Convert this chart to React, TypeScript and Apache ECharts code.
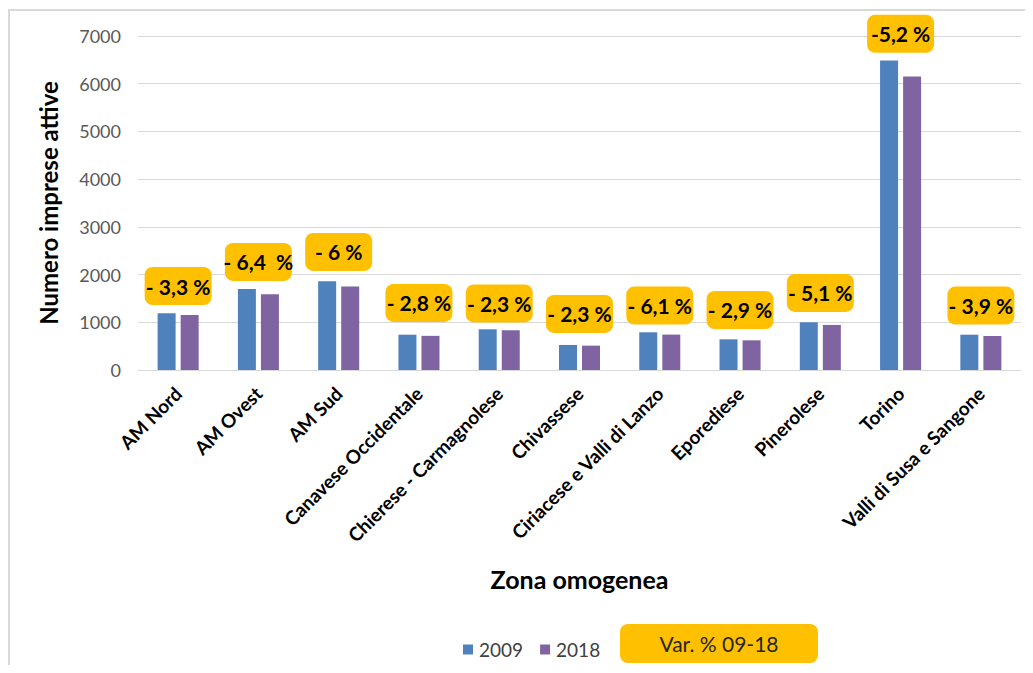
import React, { useEffect, useRef } from "react";
import * as echarts from "echarts";

const categories = [
  "AM Nord",
  "AM Ovest",
  "AM Sud",
  "Canavese Occidentale",
  "Chierese - Carmagnolese",
  "Chivassese",
  "Ciriacese e Valli di Lanzo",
  "Eporediese",
  "Pinerolese",
  "Torino",
  "Valli di Susa e Sangone",
];
const values2009 = [1190, 1700, 1860, 740, 853, 525, 790, 643, 1000, 6484, 740];
const values2018 = [1152, 1590, 1748, 716, 833, 510, 742, 622, 945, 6150, 712];
const varLabels = [
  "- 3,3 %",
  "- 6,4  %",
  "- 6 %",
  "- 2,8 %",
  "- 2,3 %",
  "- 2,3 %",
  "- 6,1 %",
  "- 2,9 %",
  "- 5,1 %",
  "-5,2 %",
  "- 3,9 %",
];
// annotation anchor heights (in data units) of the percentage boxes
const varLabelAnchor = [1760, 2265, 2475, 1405, 1395, 1175, 1350, 1258, 1615, 7045, 1350];
const yTicks = { min: 0, max: 7000, interval: 1000 };

const FONT = "Lato, 'Open Sans', sans-serif";

export default function App() {
  const ref = useRef<HTMLDivElement>(null);
  useEffect(() => {
    if (!ref.current) return;
    const chart = echarts.init(ref.current, null, { renderer: "svg" });
    chart.setOption({
      animation: false,
      textStyle: { fontFamily: FONT },
      grid: { left: 130, top: 28, right: 4, bottom: 295, containLabel: false },
      legend: {
        data: ["2009", "2018"],
        left: 450,
        top: 627,
        icon: "rect",
        itemWidth: 10,
        itemHeight: 10,
        itemGap: 17,
        textStyle: { fontSize: 19, color: "#404040", fontFamily: FONT, padding: [0, 0, 0, 1] },
      },
      xAxis: {
        type: "category",
        data: categories,
        name: "Zona omogenea",
        nameLocation: "middle",
        nameGap: 196,
        nameTextStyle: { fontSize: 25, fontWeight: "bold", color: "#000", fontFamily: FONT },
        axisLine: { lineStyle: { color: "#d9d9d9", width: 1 } },
        axisTick: { show: false },
        axisLabel: {
          rotate: 45,
          interval: 0,
          margin: 20,
          fontSize: 19,
          fontWeight: "bold",
          color: "#000",
          fontFamily: FONT,
        },
      },
      yAxis: {
        type: "value",
        min: yTicks.min,
        max: yTicks.max,
        interval: yTicks.interval,
        name: "Numero imprese attive",
        nameLocation: "middle",
        nameGap: 78,
        nameTextStyle: { fontSize: 24, fontWeight: "bold", color: "#000", fontFamily: FONT },
        axisLine: { show: false },
        axisTick: { show: false },
        axisLabel: {
          fontSize: 18,
          color: "#595959",
          margin: 17,
          fontFamily: FONT,
          formatter: (v: number) => String(v),
        },
        splitLine: { lineStyle: { color: "#d9d9d9", width: 1 } },
      },
      series: [
        {
          name: "2009",
          type: "bar",
          data: values2009,
          barWidth: 18,
          barGap: "28%",
          itemStyle: { color: "#4F81BD" },
        },
        {
          name: "2018",
          type: "bar",
          data: values2018,
          barWidth: 18,
          itemStyle: { color: "#8064A2" },
        },
        {
          name: "Var. % 09-18",
          type: "scatter",
          data: varLabelAnchor,
          symbolSize: 0,
          clip: false,
          silent: true,
          z: 10,
          itemStyle: { opacity: 1 },
          emphasis: { disabled: true },
          label: {
            show: true,
            position: "inside",
            formatter: (p: any) => varLabels[p.dataIndex],
            backgroundColor: "#FFC000",
            borderRadius: 8,
            width: 67,
            height: 38,
            lineHeight: 38,
            padding: [0, 0, 0, 0],
            align: "center",
            verticalAlign: "middle",
            fontSize: 21,
            fontWeight: "bold",
            color: "#000",
            opacity: 1,
            fontFamily: FONT,
          },
        },
      ],
      graphic: [
        {
          type: "line",
          shape: { x1: 1, y1: 2, x2: 1, y2: 700 },
          style: { stroke: "#d9d9d9", lineWidth: 2 },
          silent: true,
        },
        {
          type: "line",
          shape: { x1: 0, y1: 2, x2: 1100, y2: 2 },
          style: { stroke: "#d9d9d9", lineWidth: 2 },
          silent: true,
        },
        {
          type: "group",
          left: 612,
          top: 616,
          children: [
            {
              type: "rect",
              shape: { x: 0, y: 0, width: 198, height: 39, r: 8 },
              style: { fill: "#FFC000" },
            },
            {
              type: "text",
              x: 99,
              y: 19.5,
              style: {
                text: "Var. % 09-18",
                fontSize: 21,
                fontFamily: FONT,
                fill: "#262626",
                align: "center",
                verticalAlign: "middle",
              },
            },
          ],
        },
      ],
    });
    return () => chart.dispose();
  }, []);
  return <div ref={ref} style={{ width: 1017, height: 657 }} />;
}
